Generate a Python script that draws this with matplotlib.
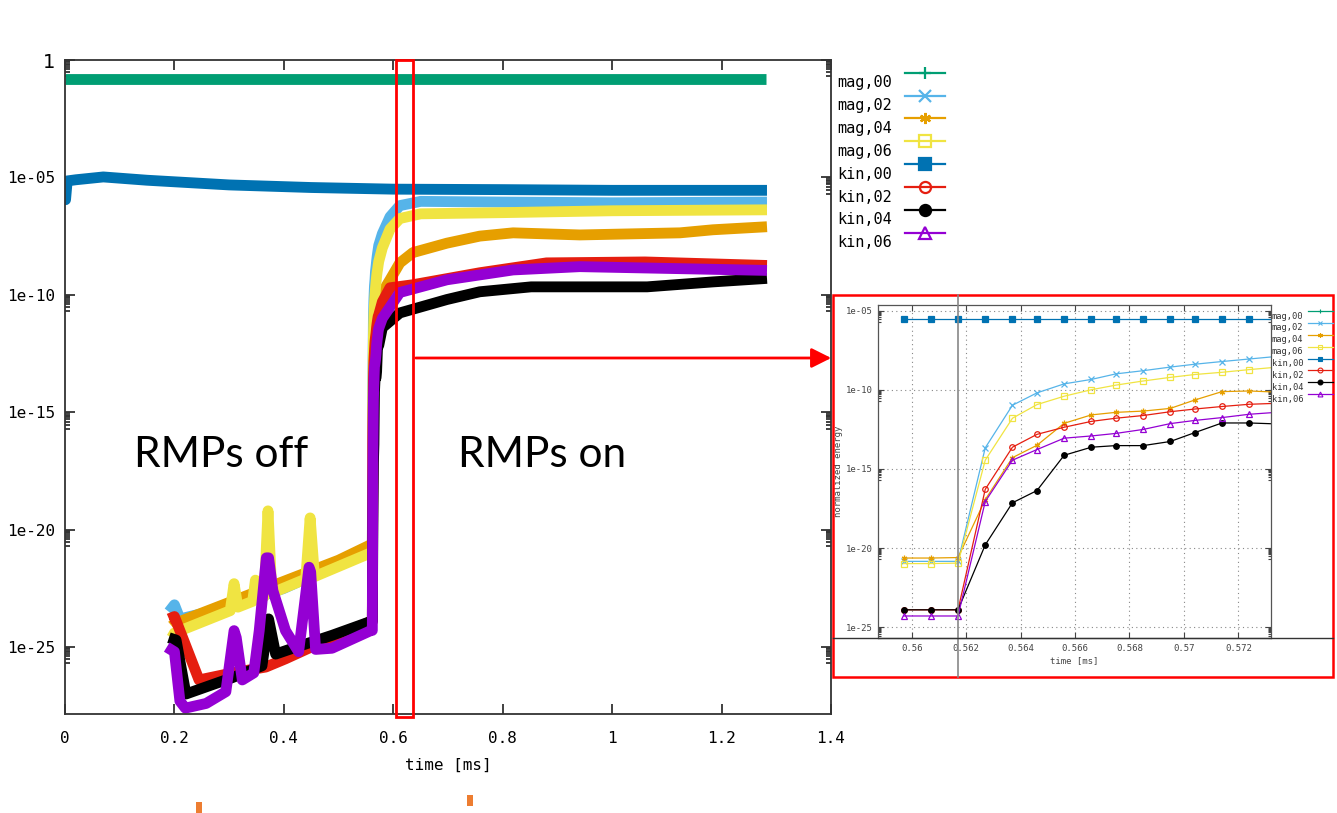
import numpy as np
import matplotlib
matplotlib.use("Agg")
import matplotlib.pyplot as plt
from matplotlib.lines import Line2D
from matplotlib.patches import Rectangle
from matplotlib.transforms import blended_transform_factory

W, H = 1337, 813

# ------------------------------------------------------------------
# data (log10 of normalized energy)
# ------------------------------------------------------------------
labels = ["mag,00", "mag,02", "mag,04", "mag,06", "kin,00", "kin,02", "kin,04", "kin,06"]
colors = ["#009e73", "#56b4e9", "#e69f00", "#f0e442", "#0072b2", "#e51e10", "#000000", "#9400d3"]
markers = ["+", "x", (6, 2, 0), "s", "s", "o", "o", "^"]
filled = [True, True, True, False, True, False, True, False]

# zoomed window (inset)
inset_t = [0.5597, 0.5607, 0.5617, 0.5627, 0.5637, 0.5646, 0.5656, 0.5666,
           0.5675, 0.5685, 0.5695, 0.5704, 0.5714, 0.5724, 0.5734]
inset_mag00 = [-0.82] * 15
inset_mag02 = [-20.84, -20.84, -20.84, -13.67, -10.98, -10.2, -9.63, -9.35, -9.0, -8.8, -8.57, -8.39, -8.22, -8.06, -7.9]
inset_mag04 = [-20.63, -20.63, -20.6, -16.94, -14.29, -13.51, -12.12, -11.59, -11.43, -11.35, -11.18, -10.65, -10.12, -10.08, -10.15]
inset_mag06 = [-20.98, -20.98, -20.95, -14.45, -11.8, -10.94, -10.41, -10.0, -9.71, -9.45, -9.22, -9.04, -8.9, -8.73, -8.58]
inset_kin00 = [-5.51] * 15
inset_kin02 = [-23.9, -23.9, -23.9, -16.29, -13.63, -12.82, -12.37, -12.0, -11.8, -11.63, -11.39, -11.22, -11.06, -10.92, -10.86]
inset_kin04 = [-23.9, -23.9, -23.9, -19.8, -17.14, -16.37, -14.14, -13.63, -13.53, -13.53, -13.27, -12.71, -12.1, -12.1, -12.16]
inset_kin06 = [-24.29, -24.29, -24.29, -17.06, -14.45, -13.78, -13.06, -12.92, -12.76, -12.51, -12.14, -11.94, -11.76, -11.55, -11.43]

# full run: before RMPs switched on
pre_mag02_t = [0.19, 0.2, 0.21, 0.3, 0.4]
pre_mag02 = [-23.5, -23.2, -23.8, -23.3, -22.5]
pre_mag04_t = [0.195, 0.2, 0.3, 0.4, 0.5]
pre_mag04 = [-24.1, -24.0, -23.1, -22.2, -21.3]
pre_mag06_t = [0.195, 0.2, 0.302, 0.309, 0.316, 0.343, 0.348, 0.353, 0.364, 0.371,
               0.378, 0.44, 0.448, 0.456]
pre_mag06 = [-24.6, -24.4, -23.45, -22.3, -23.3, -23.05, -22.15, -22.95, -22.85, -19.2,
             -22.7, -22.1, -19.5, -22.0]
pre_kin02_t = [0.19, 0.2, 0.205, 0.245, 0.306, 0.367, 0.403, 0.45]
pre_kin02 = [-23.8, -23.7, -24.0, -26.4, -26.1, -25.85, -25.5, -25.0]
pre_kin04_t = [0.19, 0.203, 0.221, 0.306, 0.36, 0.372, 0.385, 0.41, 0.488]
pre_kin04 = [-24.6, -24.7, -27.0, -26.3, -25.8, -23.8, -25.3, -25.1, -24.5]
pre_kin06_t = [0.186, 0.2, 0.21, 0.22, 0.258, 0.294, 0.309, 0.313, 0.324, 0.345, 0.355,
               0.368, 0.372, 0.38, 0.403, 0.427, 0.446, 0.449, 0.458, 0.488]
pre_kin06 = [-25.0, -25.2, -27.3, -27.6, -27.4, -26.9, -24.3, -24.6, -26.4, -26.1, -24.3,
             -21.2, -21.2, -22.6, -24.3, -25.2, -21.6, -21.8, -25.1, -25.05]

# full run: after RMPs switched on
post_mag02_t = [0.58, 0.594, 0.612, 0.65, 0.8, 1.0, 1.283]
post_mag02 = [-7.4, -6.68, -6.2, -6.02, -6.05, -6.08, -6.05]
post_mag04_t = [0.58, 0.594, 0.612, 0.636, 0.698, 0.758, 0.819, 0.941, 1.124, 1.184, 1.283]
post_mag04 = [-9.9, -9.36, -8.64, -8.2, -7.8, -7.5, -7.36, -7.45, -7.36, -7.23, -7.1]
post_mag06_t = [0.58, 0.594, 0.612, 0.65, 0.8, 1.0, 1.283]
post_mag06 = [-8.0, -7.2, -6.75, -6.55, -6.5, -6.42, -6.38]
post_kin02_t = [0.58, 0.594, 0.636, 0.758, 0.88, 1.06, 1.283]
post_kin02 = [-10.3, -9.7, -9.57, -9.06, -8.64, -8.6, -8.75]
post_kin04_t = [0.58, 0.612, 0.698, 0.758, 0.852, 1.064, 1.184, 1.283]
post_kin04 = [-11.4, -10.77, -10.2, -9.87, -9.66, -9.66, -9.45, -9.3]
post_kin06_t = [0.58, 0.612, 0.698, 0.819, 0.941, 1.283]
post_kin06 = [-11.0, -9.9, -9.36, -8.94, -8.8, -8.96]

mag00_t = [0.0, 1.281]
mag00 = [-0.82, -0.82]
kin00_t = [0.0, 0.001, 0.004, 0.02, 0.07, 0.15, 0.3, 0.45, 0.6, 0.8, 1.0, 1.283]
kin00 = [-5.95, -5.95, -5.15, -5.1, -4.98, -5.12, -5.32, -5.43, -5.5, -5.52, -5.55, -5.55]

xticks = [0, 0.2, 0.4, 0.6, 0.8, 1.0, 1.2, 1.4]
xtick_labels = ["0", "0.2", "0.4", "0.6", "0.8", "1", "1.2", "1.4"]
ytick_exp = [0, -5, -10, -15, -20, -25]
ytick_labels = ["1", "1e-05", "1e-10", "1e-15", "1e-20", "1e-25"]
inset_xticks = [0.56, 0.562, 0.564, 0.566, 0.568, 0.57, 0.572]
inset_xtick_labels = ["0.56", "0.562", "0.564", "0.566", "0.568", "0.57", "0.572"]
inset_ytick_exp = [-5, -10, -15, -20, -25]
inset_ytick_labels = ["1e-05", "1e-10", "1e-15", "1e-20", "1e-25"]

main_series = [
    (mag00_t, mag00),
    (pre_mag02_t + inset_t + post_mag02_t, pre_mag02 + inset_mag02 + post_mag02),
    (pre_mag04_t + inset_t + post_mag04_t, pre_mag04 + inset_mag04 + post_mag04),
    (pre_mag06_t + inset_t + post_mag06_t, pre_mag06 + inset_mag06 + post_mag06),
    (kin00_t, kin00),
    (pre_kin02_t + inset_t + post_kin02_t, pre_kin02 + inset_kin02 + post_kin02),
    (pre_kin04_t + inset_t + post_kin04_t, pre_kin04 + inset_kin04 + post_kin04),
    (pre_kin06_t + inset_t + post_kin06_t, pre_kin06 + inset_kin06 + post_kin06),
]
inset_series = [inset_mag00, inset_mag02, inset_mag04, inset_mag06,
                inset_kin00, inset_kin02, inset_kin04, inset_kin06]

MONO = "DejaVu Sans Mono"


def fx(px):
    return px / W


def fy(py):
    return 1 - py / H


def minor_ticks(exps):
    out = []
    for e in exps:
        out += [k * 10.0 ** (e - 1) for k in range(2, 10)]
    return out


fig = plt.figure(figsize=(W / 100, H / 100), dpi=100)

# ==================================================================
# MAIN PLOT
# ==================================================================
ax = fig.add_axes([fx(65), fy(714), fx(831) - fx(65), fy(60) - fy(714)])
for (t, v), c in zip(main_series, colors):
    ax.plot(t, 10.0 ** np.array(v), color=c, lw=7.8,
            solid_joinstyle="round", solid_capstyle="butt")
ax.set_yscale("log")
ax.set_xlim(0, 1.4)
ax.set_ylim(10 ** -27.85, 1)
ax.set_xticks(xticks)
ax.set_xticklabels(xtick_labels, fontfamily=MONO, fontsize=11.5)
ax.set_yticks([10.0 ** e for e in ytick_exp])
ax.set_yticklabels(ytick_labels, fontfamily=MONO, fontsize=11.5)
ax.set_yticks(minor_ticks(ytick_exp), minor=True)
ax.yaxis.set_minor_formatter(plt.NullFormatter())
ax.get_yticklabels()[0].set_fontfamily("DejaVu Sans")
ax.get_yticklabels()[0].set_fontsize(14)
ax.tick_params(which="both", direction="in", top=True, right=True, width=1.3, color="#333333")
ax.tick_params(which="major", length=7)
ax.tick_params(axis="x", which="major", pad=12)
ax.tick_params(axis="y", which="major", pad=7)
ax.tick_params(which="minor", length=3.5)
for s in ax.spines.values():
    s.set_linewidth(1.3)
    s.set_color("#333333")
ax.set_xlabel("time [ms]", fontfamily=MONO, fontsize=11.5, labelpad=9)

# zoom marker + arrow
tr = blended_transform_factory(ax.transData, ax.transAxes)
ax.add_patch(Rectangle((0.605, -0.004), 0.031, 1.004, transform=tr, fill=False,
                       ec="red", lw=2, clip_on=False, zorder=5))
fig.add_artist(matplotlib.patches.FancyArrowPatch(
    (fx(413), fy(358)), (fx(834), fy(358)), transform=fig.transFigure,
    arrowstyle="-|>,head_length=10,head_width=5", color="red", lw=2,
    mutation_scale=1.2))

fig.text(fx(221), fy(455), "RMPs off", fontsize=30.5, family="Lato", ha="center", va="center")
fig.text(fx(542), fy(455), "RMPs on", fontsize=30.5, family="Lato", ha="center", va="center")

# main legend
for i, (lab, c, m, f) in enumerate(zip(labels, colors, markers, filled)):
    yh = 72.7 + 22.86 * i
    fig.add_artist(Line2D([fx(905), fx(945)], [fy(yh), fy(yh)], transform=fig.transFigure,
                          color=c, lw=1.6))
    fig.add_artist(Line2D([fx(925)], [fy(yh)], transform=fig.transFigure, color=c,
                          marker=m, ms=8, mew=1.6, mfc=c if f else "none", mec=c))
    fig.text(fx(837), fy(yh + 10), lab, fontfamily=MONO, fontsize=11, va="center", ha="left")

# ==================================================================
# INSET (zoom 0.559 - 0.573 ms)
# ==================================================================
ax2 = fig.add_axes([fx(878.3), fy(638.3), fx(1270.7) - fx(878.3), fy(305) - fy(638.3)])
for v, c, m, f in zip(inset_series, colors, markers, filled):
    ax2.plot(inset_t, 10.0 ** np.array(v), color=c, lw=0.9, marker=m, ms=4,
             mew=0.9, mfc=c if f else "none", mec=c)
ax2.set_yscale("log")
ax2.set_xlim(0.55877, 0.57319)
ax2.set_ylim(10 ** -25.06, 10 ** -4.65)
ax2.set_xticks(inset_xticks)
ax2.set_xticklabels(inset_xtick_labels, fontfamily=MONO, fontsize=6.5, color="#444444")
ax2.set_yticks([10.0 ** e for e in inset_ytick_exp])
ax2.set_yticklabels(inset_ytick_labels, fontfamily=MONO, fontsize=6.5, color="#444444")
ax2.set_yticks(minor_ticks(inset_ytick_exp), minor=True)
ax2.yaxis.set_minor_formatter(plt.NullFormatter())
ax2.tick_params(which="both", direction="in", top=True, right=True, width=0.8, color="#444444")
ax2.tick_params(which="major", length=4, pad=4)
ax2.tick_params(which="minor", length=2)
ax2.grid(True, which="major", ls=(0, (1, 3)), color="#888888", lw=0.8)
for s in ax2.spines.values():
    s.set_linewidth(0.9)
    s.set_color("#555555")
ax2.set_xlabel("time [ms]", fontfamily=MONO, fontsize=6.5, color="#444444", labelpad=2)
ax2.set_ylabel("normalized energy", fontfamily=MONO, fontsize=6.5, color="#444444", labelpad=2)

# cursor lines from the screenshot
fig.add_artist(Line2D([inset_t[2], inset_t[2]], [fy(677), fy(295)],
                      transform=blended_transform_factory(ax2.transData, fig.transFigure),
                      color="#888888", lw=1.2))
fig.add_artist(Line2D([fx(833), fx(1333)], [0, 0],
                      transform=blended_transform_factory(fig.transFigure, ax2.transAxes),
                      color="#333333", lw=1.0))

# inset legend
for i, (lab, c, m, f) in enumerate(zip(labels, colors, markers, filled)):
    yh = 311 + 11.9 * i
    fig.add_artist(Line2D([fx(1308), fx(1333)], [fy(yh), fy(yh)], transform=fig.transFigure,
                          color=c, lw=0.9))
    fig.add_artist(Line2D([fx(1320)], [fy(yh)], transform=fig.transFigure, color=c,
                          marker=m, ms=3.5, mew=0.8, mfc=c if f else "none", mec=c))
    fig.text(fx(1272), fy(yh + 5), lab, fontfamily=MONO, fontsize=6.3, va="center",
             ha="left", color="#333333")

# red frame around inset
fig.add_artist(Rectangle((fx(833), fy(677)), fx(1333) - fx(833), fy(295) - fy(677),
                         transform=fig.transFigure, fill=False, ec="red", lw=1.8))

# slide artefacts
for x0, y0 in [(196, 802), (467, 795)]:
    fig.add_artist(Rectangle((fx(x0), fy(y0 + 11)), fx(6), 11 / H, transform=fig.transFigure,
                             color="#ed7d31", lw=0))

fig.savefig("out.png", dpi=100)
